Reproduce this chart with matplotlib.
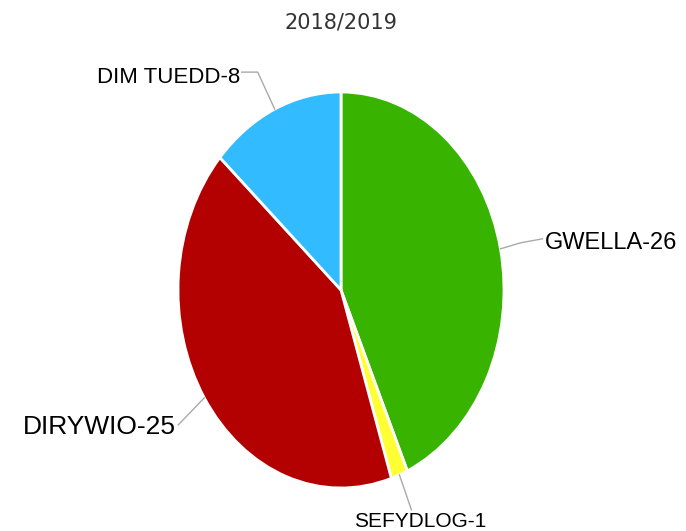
import matplotlib
matplotlib.use("Agg")
import matplotlib.pyplot as plt
import numpy as np

title = "2018/2019"
categories = ["GWELLA", "SEFYDLOG", "DIRYWIO", "DIM TUEDD"]
values = [26, 1, 25, 8]
colors = ["#37B300", "#FFFF33", "#B30000", "#33BBFF"]

W, H = 686, 531
fig = plt.figure(figsize=(W / 100, H / 100), dpi=100)
cx, cy, rx, ry = 341, 290, 163, 198
ax = fig.add_axes([(cx - rx) / W, (H - cy - ry) / H, 2 * rx / W, 2 * ry / H])
wedges, _ = ax.pie(values, colors=colors, startangle=90, counterclock=False,
                   wedgeprops=dict(edgecolor="white", linewidth=2))
ax.set_aspect("auto")
ax.set_xlim(-1, 1)
ax.set_ylim(-1, 1)
ax.axis("off")

fig.text(cx / W, 1 - 22 / H, title, ha="center", va="center",
         fontsize=15, color="#333333", family="DejaVu Sans")

# label layout (pixel offsets): (elbow dx, dy), (end dx, dy), ha, text offset, fontsize
layout = {
    "GWELLA": [(20, -6), (42, -10), "left", (2, 4), 17],
    "SEFYDLOG": [(0, 0), (12, 35), "center", (9, 12), 15],
    "DIRYWIO": [(0, 0), (-26, 27), "right", (-2, 2), 19],
    "DIM TUEDD": [(-17, -37), (-33, -37), "right", (-1, 5), 16],
}

def to_fig(px, py):
    return px / W, 1 - py / H

for w, cat, v in zip(wedges, categories, values):
    ang = np.deg2rad((w.theta1 + w.theta2) / 2)
    ex, ey = cx + rx * np.cos(ang), cy - ry * np.sin(ang)
    (d1x, d1y), (d2x, d2y), ha, (ox, oy), fs = layout[cat]
    pts = [(ex, ey), (ex + d1x, ey + d1y), (ex + d2x, ey + d2y)]
    xs = [to_fig(*p)[0] for p in pts]
    ys = [to_fig(*p)[1] for p in pts]
    fig.add_artist(plt.Line2D(xs, ys, color="#aaaaaa", linewidth=1))
    tx, ty = pts[-1]
    fx, fy = to_fig(tx + ox, ty + oy)
    fig.text(fx, fy, f"{cat}-{v}", ha=ha, va="center", fontsize=fs,
             family="Liberation Sans", color="black")

fig.savefig("out.png", dpi=100, facecolor="white")
